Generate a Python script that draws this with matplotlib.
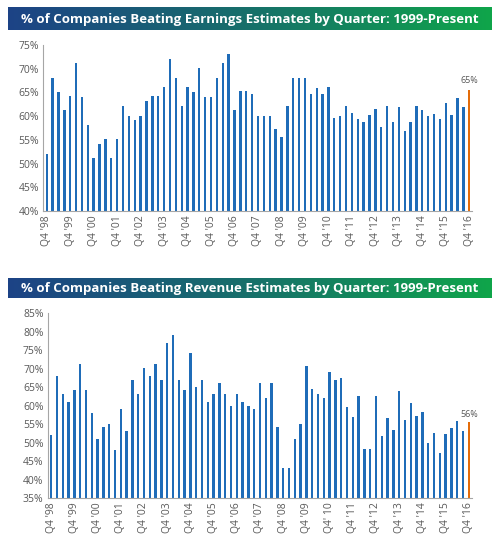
import numpy as np
import matplotlib
matplotlib.use("Agg")
import matplotlib.pyplot as plt
from matplotlib.colors import LinearSegmentedColormap

# ---- data ----
earnings = [52.1, 68.0, 65.1, 61.3, 64.2, 71.2, 64.1, 58.2, 51.1, 54.1, 55.1, 51.1,
            55.1, 62.1, 60.1, 59.1, 60.1, 63.1, 64.2, 64.2, 66.1, 72.0, 68.0, 62.1,
            66.1, 65.1, 70.1, 64.1, 64.1, 68.0, 71.1, 73.0, 61.3, 65.2, 65.2, 64.6,
            60.0, 60.0, 60.0, 57.2, 55.6, 62.1, 68.0, 68.0, 68.1, 64.6, 65.9, 64.7,
            66.2, 59.6, 60.0, 62.1, 60.6, 59.5, 58.8, 60.2, 61.5, 57.8, 62.2, 58.8,
            61.9, 56.9, 58.8, 62.1, 61.2, 60.0, 60.5, 59.5, 62.8, 60.2, 63.9, 61.9,
            65.5]
revenue = [52.1, 67.9, 63.1, 61.1, 64.1, 71.1, 64.1, 58.0, 51.1, 54.1, 55.1, 48.0,
           59.1, 53.1, 67.0, 63.1, 70.1, 67.9, 71.1, 67.0, 76.9, 79.0, 67.0, 64.1,
           74.1, 65.1, 67.0, 61.0, 63.1, 66.0, 63.1, 60.0, 63.1, 61.0, 60.0, 59.1,
           66.0, 62.1, 66.0, 54.1, 43.2, 43.2, 51.1, 55.1, 70.8, 64.5, 63.1, 62.0,
           69.0, 67.0, 67.5, 59.6, 56.9, 62.7, 48.3, 48.3, 62.7, 51.7, 56.6, 53.4,
           63.9, 56.2, 60.7, 57.2, 58.2, 50.0, 52.6, 47.1, 52.2, 53.9, 55.9, 53.2,
           55.5]
tick_labels_e = ["Q4 '98", "Q4 '99", "Q4 '00", "Q4 '01", "Q4 '02", "Q4 '03", "Q4 '04",
                 "Q4 '05", "Q4 '06", "Q4 '07", "Q4 '08", "Q4 '09", "Q4 '10", "Q4 '11",
                 "Q4 '12", "Q4 '13", "Q4 '14", "Q4 '15", "Q4 '16"]
tick_labels_r = ["Q4 '98", "Q4 '99", "Q4 '00", "Q4 '01", "Q4 '02", "Q4 '03", "Q4 '04",
                 "Q4 '05", "Q4 '06", "Q4 '07", "Q4 '08", "Q4 '09", "Q4' 10", "Q4 '11",
                 "Q4 '12", "Q4 '13", "Q4 '14", "Q4 '15", "Q4 '16"]
last_label_e = "65%"
last_label_r = "56%"
title_e = "% of Companies Beating Earnings Estimates by Quarter: 1999-Present"
title_r = "% of Companies Beating Revenue Estimates by Quarter: 1999-Present"

BLUE = "#1f6cb8"
ORANGE = "#e36c0a"
TXT = "#595959"
FONT = "Open Sans"

fig = plt.figure(figsize=(5.0, 5.5), dpi=100)
fig.patch.set_facecolor("white")

cmap = LinearSegmentedColormap.from_list("banner", ["#1d4386", "#17706a", "#0fa54a"])


def banner(y0, y1, text):
    ax = fig.add_axes([8 / 500, 1 - y1 / 550, 484 / 500, (y1 - y0) / 550])
    grad = np.linspace(0, 1, 256).reshape(1, -1)
    ax.imshow(grad, aspect="auto", cmap=cmap, extent=[0, 1, 0, 1])
    ax.set_xlim(0, 1)
    ax.set_ylim(0, 1)
    ax.axis("off")
    ax.text(0.5, 0.47, text, color="white", fontsize=9.5, fontweight="bold",
            family=FONT, ha="center", va="center")


def chart(rect, values, labels, ylim, step, last_label):
    ax = fig.add_axes(rect)
    x = np.arange(len(values))
    colors = [BLUE] * (len(values) - 1) + [ORANGE]
    ax.bar(x, [v - ylim[0] for v in values], bottom=ylim[0], width=0.4,
           color=colors, linewidth=0)
    ax.set_ylim(*ylim)
    ax.set_xlim(-0.6, len(values) - 0.5)
    yt = np.arange(ylim[0], ylim[1] + 0.1, step)
    ax.set_yticks(yt)
    ax.set_yticklabels([f"{int(v)}%" for v in yt], fontsize=7.5, color=TXT, family=FONT)
    ax.set_xticks(x[::4])
    ax.set_xticklabels(labels, rotation=90, fontsize=7.5, color=TXT, family=FONT)
    ax.tick_params(length=0, pad=3)
    for s in ["top", "right"]:
        ax.spines[s].set_visible(False)
    ax.spines["left"].set_color("#a6a6a6")
    ax.spines["bottom"].set_color("#a6a6a6")
    ax.spines["left"].set_linewidth(0.8)
    ax.spines["bottom"].set_linewidth(0.8)
    ax.text(x[-1], values[-1] + 1.0, last_label, ha="center", va="bottom",
            fontsize=6.5, color=TXT, family=FONT)
    return ax


banner(7, 30, title_e)
chart([43.2 / 500, 1 - 211 / 550, 429 / 500, 166 / 550], earnings, tick_labels_e,
      (40, 75), 5, last_label_e)

banner(278, 298, title_r)
chart([47.7 / 500, 1 - 498.2 / 550, 424 / 500, 185.2 / 550], revenue, tick_labels_r,
      (35, 85), 5, last_label_r)

fig.savefig("out.png", dpi=100, facecolor="white")
